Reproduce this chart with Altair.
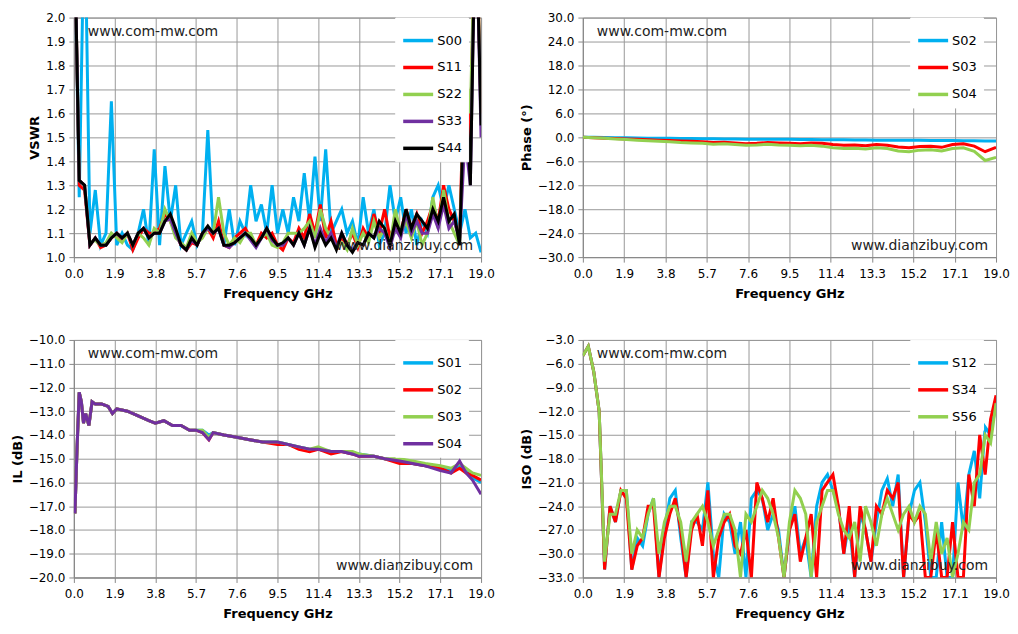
import altair as alt
import pandas as pd

# ---- VSWR (step 0.25 GHz)
vswr_s00 = [2.5,1.25,2.5,1.1,1.28,1.05,1.1,1.65,1.05,1.1,1.05,1.03,1.1,1.2,1.05,1.45,1.05,1.38,1.15,1.3,1.05,1.1,1.15,1.05,1.1,1.53,1.1,1.12,1.05,1.2,1.05,1.15,1.1,1.3,1.15,1.22,1.1,1.3,1.1,1.2,1.1,1.25,1.15,1.35,1.15,1.42,1.15,1.45,1.1,1.15,1.2,1.1,1.15,1.05,1.25,1.1,1.2,1.05,1.1,1.3,1.15,1.25,1.1,1.2,1.05,1.15,1.1,1.25,1.3,1.2,1.3,1.2,1.1,1.2,1.08,1.1,1.02]
vswr_s11 = [2.5,1.3,1.28,1.05,1.08,1.04,1.05,1.08,1.1,1.07,1.1,1.03,1.08,1.12,1.1,1.1,1.12,1.18,1.15,1.1,1.05,1.03,1.06,1.05,1.1,1.12,1.08,1.15,1.05,1.04,1.08,1.1,1.12,1.08,1.05,1.1,1.08,1.1,1.05,1.03,1.08,1.06,1.12,1.08,1.18,1.1,1.22,1.08,1.15,1.05,1.08,1.05,1.1,1.04,1.12,1.08,1.18,1.1,1.2,1.08,1.15,1.1,1.2,1.12,1.18,1.1,1.15,1.22,1.15,1.3,1.2,1.15,1.08,1.9,1.5,2.5,1.6]
vswr_s22 = [2.5,1.32,1.3,1.06,1.07,1.05,1.06,1.1,1.08,1.06,1.1,1.05,1.1,1.08,1.05,1.12,1.1,1.2,1.15,1.08,1.06,1.04,1.1,1.06,1.08,1.12,1.1,1.25,1.1,1.05,1.08,1.06,1.1,1.1,1.05,1.08,1.1,1.05,1.04,1.06,1.1,1.1,1.1,1.12,1.15,1.08,1.2,1.12,1.08,1.04,1.06,1.03,1.12,1.05,1.1,1.06,1.15,1.08,1.12,1.05,1.2,1.1,1.15,1.08,1.15,1.05,1.1,1.25,1.12,1.28,1.15,1.1,1.05,1.8,1.6,2.5,1.6]
vswr_s33 = [2.5,1.32,1.3,1.05,1.08,1.05,1.05,1.08,1.1,1.08,1.1,1.05,1.1,1.12,1.08,1.1,1.1,1.15,1.16,1.1,1.05,1.03,1.07,1.05,1.1,1.12,1.1,1.12,1.05,1.04,1.06,1.08,1.1,1.07,1.04,1.08,1.12,1.07,1.05,1.05,1.08,1.05,1.1,1.05,1.12,1.05,1.12,1.06,1.1,1.04,1.1,1.05,1.03,1.06,1.05,1.1,1.08,1.12,1.1,1.04,1.12,1.08,1.18,1.1,1.15,1.1,1.1,1.18,1.12,1.22,1.12,1.15,1.07,1.5,1.3,2.5,1.5]
vswr_s44 = [2.5,1.32,1.3,1.05,1.08,1.05,1.05,1.08,1.1,1.08,1.1,1.05,1.1,1.12,1.08,1.1,1.1,1.15,1.18,1.12,1.05,1.03,1.08,1.05,1.1,1.13,1.1,1.12,1.05,1.05,1.06,1.08,1.1,1.08,1.05,1.08,1.12,1.08,1.05,1.06,1.08,1.05,1.1,1.05,1.12,1.04,1.1,1.05,1.08,1.03,1.1,1.05,1.02,1.06,1.05,1.1,1.08,1.15,1.12,1.05,1.15,1.1,1.2,1.12,1.18,1.15,1.12,1.2,1.15,1.25,1.15,1.18,1.05,1.8,1.3,2.5,1.55]

# ---- Phase (step 0.5 GHz)
ph_s02 = [0,0,-0.05,-0.1,-0.1,-0.15,-0.2,-0.2,-0.25,-0.3,-0.3,-0.35,-0.35,-0.4,-0.4,-0.45,-0.45,-0.5,-0.5,-0.5,-0.55,-0.55,-0.6,-0.6,-0.6,-0.65,-0.65,-0.7,-0.7,-0.7,-0.75,-0.75,-0.8,-0.8,-0.8,-0.85,-0.85,-0.9,-0.9]
ph_s03 = [0,-0.1,-0.2,-0.3,-0.4,-0.5,-0.6,-0.7,-0.8,-0.9,-1.0,-1.1,-1.3,-1.2,-1.4,-1.6,-1.5,-1.3,-1.4,-1.5,-1.6,-1.4,-1.5,-1.8,-2.0,-1.9,-2.1,-1.8,-2.0,-2.4,-2.6,-2.3,-2.2,-2.5,-1.8,-1.6,-2.2,-3.6,-2.5]
ph_s04 = [0,-0.1,-0.25,-0.4,-0.55,-0.7,-0.85,-1.0,-1.1,-1.3,-1.4,-1.5,-1.7,-1.6,-1.8,-2.0,-1.9,-1.7,-1.9,-2.0,-2.1,-2.0,-2.2,-2.6,-2.8,-2.7,-2.9,-2.6,-2.8,-3.4,-3.6,-3.2,-3.1,-3.4,-2.8,-2.6,-3.5,-5.8,-5.0]

# ---- Insertion loss
il_freq = [0.05,0.15,0.25,0.35,0.45,0.55,0.7,0.85,1.0,1.3,1.6,1.8,2.0,2.5,3.0,3.5,3.8,4.2,4.6,5.0,5.4,5.7,6.0,6.3,6.5,7.0,7.6,8.2,8.8,9.5,10.0,10.5,11.0,11.4,12.0,12.5,13.0,13.3,14.0,14.5,15.2,15.8,16.4,17.1,17.6,18.0,18.3,18.6,19.0]
il_s01 = [-17.3,-14.5,-12.2,-12.6,-13.5,-13.1,-13.6,-12.6,-12.7,-12.7,-12.8,-13.1,-12.9,-13.0,-13.2,-13.4,-13.5,-13.4,-13.6,-13.6,-13.8,-13.8,-13.8,-14.0,-13.9,-14.0,-14.1,-14.2,-14.3,-14.3,-14.4,-14.5,-14.6,-14.6,-14.7,-14.7,-14.8,-14.8,-14.9,-15.0,-15.1,-15.2,-15.3,-15.4,-15.5,-15.3,-15.5,-15.8,-16.0]
il_s02 = [-17.3,-14.5,-12.2,-12.6,-13.5,-13.1,-13.6,-12.6,-12.7,-12.7,-12.8,-13.1,-12.9,-13.0,-13.2,-13.4,-13.5,-13.4,-13.6,-13.6,-13.8,-13.8,-13.9,-14.2,-13.9,-14.0,-14.1,-14.2,-14.3,-14.4,-14.4,-14.6,-14.7,-14.6,-14.8,-14.7,-14.8,-14.9,-14.9,-15.0,-15.2,-15.2,-15.3,-15.4,-15.6,-15.4,-15.6,-15.7,-15.9]
il_s03 = [-17.3,-14.5,-12.2,-12.6,-13.5,-13.1,-13.6,-12.6,-12.7,-12.7,-12.8,-13.1,-12.9,-13.0,-13.2,-13.4,-13.5,-13.4,-13.6,-13.6,-13.8,-13.8,-13.8,-14.1,-13.9,-14.0,-14.1,-14.2,-14.3,-14.3,-14.4,-14.5,-14.6,-14.5,-14.7,-14.7,-14.7,-14.8,-14.9,-15.0,-15.0,-15.1,-15.2,-15.3,-15.4,-15.2,-15.4,-15.6,-15.7]
il_s04 = [-17.3,-14.5,-12.2,-12.6,-13.5,-13.1,-13.6,-12.6,-12.7,-12.7,-12.8,-13.1,-12.9,-13.0,-13.2,-13.4,-13.5,-13.4,-13.6,-13.6,-13.8,-13.8,-13.9,-14.2,-13.9,-14.0,-14.1,-14.2,-14.3,-14.3,-14.4,-14.5,-14.6,-14.6,-14.7,-14.7,-14.8,-14.9,-14.9,-15.0,-15.1,-15.2,-15.3,-15.5,-15.6,-15.1,-15.6,-15.9,-16.5]

# ---- Isolation (step 0.25 GHz)
iso_s12 = [-5,-3.8,-7,-12,-32,-24,-26,-22,-22,-32,-28,-29,-25,-23,-33,-27,-23,-22,-28,-33,-26,-26,-27,-21,-30,-33,-25,-26,-30,-26,-33,-23,-22,-23,-27,-25,-27,-33,-27,-24,-30,-28,-33,-24,-21,-20,-22,-24,-30,-26,-33,-25,-27,-31,-26,-22,-20.5,-24,-20,-33,-25,-22,-21,-26,-33,-33,-26,-33,-33,-21,-27,-20,-17,-23,-14,-15,-11]
iso_s34 = [-5,-3.8,-7,-12,-32,-24,-26,-22,-23,-32,-29,-28,-24,-24,-33,-28,-25,-23,-27,-33,-27,-25,-29,-22,-33,-28,-26,-25,-29,-30,-27,-33,-21,-23,-26,-23,-28,-33,-27,-25,-31,-28,-25,-33,-22,-21,-20,-24,-30,-24,-33,-24,-27,-31,-24,-25,-22,-23,-21,-33,-25,-26,-25,-33,-33,-27,-33,-33,-26,-33,-33,-20,-24,-15,-20,-13,-10]
iso_s56 = [-5,-3.8,-7,-12,-31,-25,-25,-22,-22,-30,-27,-28,-25,-23,-30,-26,-24,-24,-26,-31,-26,-25,-24,-26,-29,-27,-25,-25,-27,-33,-25,-26,-24,-22,-23,-25,-28,-33,-26,-22,-23,-25,-33,-26,-24,-22,-22,-25,-27,-28,-26,-31,-24,-26,-29,-25,-23,-25,-27,-25,-24,-26,-24,-25,-31,-26,-30,-28,-33,-30,-26,-27,-21,-20,-15,-16,-11]

x_ticks = [0.0,1.9,3.8,5.7,7.6,9.5,11.4,13.3,15.2,17.1,19.0]
BLUE, RED, GREEN, PURPLE, BLACK = '#00B0F0', '#FF0000', '#92D050', '#7030A0', '#000000'
FONT = 'DejaVu Sans'


def long_df(series, freqs=None, step=None):
    rows = []
    for name, vals in series:
        for i, v in enumerate(vals):
            f = freqs[i] if freqs is not None else round(i * step, 3)
            rows.append({'f': min(f, 19.0), 'v': v, 's': name})
    return pd.DataFrame(rows)


def panel(df, names, colors, ytitle, ymin, ymax, ystep, w, h):
    yticks = [round(ymin + i * ystep, 2) for i in range(int(round((ymax - ymin) / ystep)) + 1)]
    lines = alt.Chart(df).mark_line(strokeWidth=3, clip=True).encode(
        x=alt.X('f:Q', title='Frequency GHz',
                scale=alt.Scale(domain=[0, 19], nice=False, zero=False, padding=0),
                axis=alt.Axis(values=x_ticks, format='.1f', labelFlush=False,
                              labelPadding=6, titlePadding=8)),
        y=alt.Y('v:Q', title=ytitle,
                scale=alt.Scale(domain=[ymin, ymax], nice=False, zero=False, padding=0),
                axis=alt.Axis(values=yticks, format='.1f', labelFlush=False,
                              labelPadding=4, titlePadding=4)),
        color=alt.Color('s:N', sort=names,
                        scale=alt.Scale(domain=names, range=colors),
                        legend=alt.Legend(title=None, orient='none', legendX=w - 86, legendY=0,
                                          symbolType='stroke', symbolSize=900, symbolStrokeWidth=3.5,
                                          labelFontSize=13, labelFont=FONT, rowPadding=3,
                                          fillColor='white', padding=6, labelOffset=2)),
    )
    wm1 = alt.Chart(pd.DataFrame({'t': ['www.com-mw.com']})).mark_text(
        align='left', baseline='middle', fontSize=14, font=FONT, color='#222'
    ).encode(x=alt.value(14), y=alt.value(14), text='t:N')
    wm2 = alt.Chart(pd.DataFrame({'t': ['www.dianzibuy.com']})).mark_text(
        align='right', baseline='middle', fontSize=14, font=FONT, color='#222'
    ).encode(x=alt.value(w - 8), y=alt.value(h - 11), text='t:N')
    return alt.layer(lines, wm1, wm2).properties(width=w, height=h)


vswr = panel(long_df([('S00', vswr_s00), ('S11', vswr_s11), ('S22', vswr_s22), ('S33', vswr_s33), ('S44', vswr_s44)], step=0.25),
             ['S00', 'S11', 'S22', 'S33', 'S44'], [BLUE, RED, GREEN, PURPLE, BLACK],
             'VSWR', 1.0, 2.0, 0.1, 408, 240)
phase = panel(long_df([('S02', ph_s02), ('S03', ph_s03), ('S04', ph_s04)], step=0.5),
              ['S02', 'S03', 'S04'], [BLUE, RED, GREEN],
              'Phase (°)', -30, 30, 6, 414, 240)
il = panel(long_df([('S01', il_s01), ('S02', il_s02), ('S03', il_s03), ('S04', il_s04)], freqs=il_freq),
           ['S01', 'S02', 'S03', 'S04'], [BLUE, RED, GREEN, PURPLE],
           'IL (dB)', -20, -10, 1, 408, 238)
iso = panel(long_df([('S12', iso_s12), ('S34', iso_s34), ('S56', iso_s56)], step=0.25),
            ['S12', 'S34', 'S56'], [BLUE, RED, GREEN],
            'ISO (dB)', -33, -3, 3, 414, 238)

top = alt.hconcat(vswr, phase, spacing=24).resolve_scale(color='independent')
bottom = alt.hconcat(il, iso, spacing=24).resolve_scale(color='independent')

chart = alt.vconcat(top, bottom, spacing=32).resolve_scale(color='independent').configure_view(
    stroke='#888', strokeWidth=1
).configure_axis(
    gridColor='#999', gridWidth=1, domainColor='#888', tickColor='#888',
    labelFont=FONT, labelFontSize=12, labelColor='#000',
    titleFont=FONT, titleFontSize=13, titleFontWeight='bold', titleColor='#000'
).configure_legend(strokeColor='white').properties(background='white', padding={'left': 2, 'top': 2, 'right': 0, 'bottom': 0})

chart.save("out.html", embed_options={"renderer": "svg", "actions": False})
